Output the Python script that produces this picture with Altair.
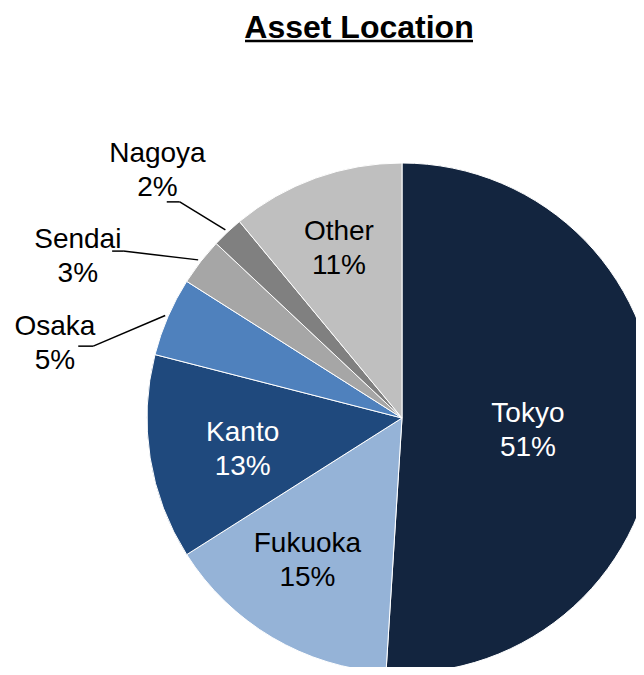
import altair as alt
import pandas as pd

# ---- data ----
categories = ["Tokyo", "Fukuoka", "Kanto", "Osaka", "Sendai", "Nagoya", "Other"]
shares = [51, 15, 13, 5, 3, 2, 11]
colors = ["#13253f", "#95b3d7", "#1f497d", "#4f81bd", "#a6a6a6", "#808080", "#bfbfbf"]
title_text = "Asset Location"

df = pd.DataFrame({"category": categories, "share": shares,
                   "order": list(range(len(categories)))})

# ---- layout / style ----
CX, CY, R = 394, 410, 255
FONT = "Liberation Sans"
FS = 28
LH = 34
theta_scale = alt.Scale(domain=[0, 100], range=[0, 6.283185307179586])

# (category, radius, angle shift in degrees, colour)
inside = [("Tokyo", 126, 0.0, "white"), ("Kanto", 161, 0.8, "white"),
          ("Fukuoka", 164, 4.6, "black"), ("Other", 189, 0.3, "black")]
outside = [("Nagoya", 354, -0.5), ("Sendai", 366, -10.15), ("Osaka", 357, -9.9)]
# (category, elbow angle shift deg, elbow radius, horizontal tail)
leaders = [("Nagoya", -2.6, 310, 13), ("Sendai", -6.9, 325, 11), ("Osaka", -10.3, 317, 15)]

base = alt.Chart(df).transform_window(
    cum="sum(share)", sort=[alt.SortField("order")], frame=[None, 0]
).transform_calculate(
    start="datum.cum - datum.share"
).transform_calculate(
    mid="datum.cum - datum.share / 2"
).transform_calculate(
    label="datum.category + '\\n' + datum.share + '%'"
)

pie = base.mark_arc(outerRadius=R, stroke="white", strokeWidth=1).encode(
    theta=alt.Theta("start:Q", scale=theta_scale),
    theta2="cum:Q",
    color=alt.Color("category:N", scale=alt.Scale(domain=categories, range=colors),
                    legend=None),
    x=alt.value(CX), y=alt.value(CY),
)


def label_layer(cat, r, shift, color):
    return base.transform_filter(alt.datum.category == cat).transform_calculate(
        ang=f"datum.mid + {shift / 3.6}"
    ).mark_text(font=FONT, fontSize=FS, lineBreak="\n", lineHeight=LH,
                align="center", baseline="alphabetic", color=color).encode(
        theta=alt.Theta("ang:Q", scale=theta_scale),
        radius=alt.value(r),
        text="label:N",
        x=alt.value(CX), y=alt.value(CY),
    )


def leader_layers(cat, eshift, er, tail):
    b = base.transform_filter(alt.datum.category == cat).transform_calculate(
        a0="datum.mid * PI / 50"
    ).transform_calculate(
        a1=f"(datum.mid * 3.6 + {eshift}) * PI / 180"
    ).transform_calculate(
        x0=f"{CX} + {R + 3} * sin(datum.a0)"
    ).transform_calculate(
        y0=f"{CY} - {R + 3} * cos(datum.a0)"
    ).transform_calculate(
        x1=f"{CX} + {er} * sin(datum.a1)"
    ).transform_calculate(
        y1=f"{CY} - {er} * cos(datum.a1)"
    ).transform_calculate(
        x2=f"datum.x1 - {tail}"
    )
    s1 = b.mark_rule(color="black", strokeWidth=1.5).encode(
        x=alt.X("x0:Q", scale=None), y=alt.Y("y0:Q", scale=None),
        x2="x1:Q", y2="y1:Q")
    s2 = b.mark_rule(color="black", strokeWidth=1.5).encode(
        x=alt.X("x1:Q", scale=None), y=alt.Y("y1:Q", scale=None),
        x2="x2:Q", y2="y1:Q")
    return [s1, s2]


layers = [pie]
for cat, r, s, c in inside:
    layers.append(label_layer(cat, r, s, c))
for cat, r, s in outside:
    layers.append(label_layer(cat, r, s, "black"))
for cat, es, er, t in leaders:
    layers.extend(leader_layers(cat, es, er, t))

title_df = pd.DataFrame({"title": [title_text]})
title = alt.Chart(title_df).mark_text(
    font=FONT, fontSize=32, fontWeight="bold", align="center", baseline="alphabetic",
    color="black").encode(text="title:N", x=alt.value(351), y=alt.value(29.5))
underline = alt.Chart(title_df).mark_rule(color="black", strokeWidth=2.5).encode(
    x=alt.value(237), x2=alt.value(465), y=alt.value(33), y2=alt.value(33))
layers += [title, underline]

chart = alt.layer(*layers).properties(
    width=628, height=659, padding=0,
    autosize=alt.AutoSizeParams(type="none"),
).configure_view(stroke=None)

chart.save("out.html", embed_options={"renderer": "svg", "actions": False})
